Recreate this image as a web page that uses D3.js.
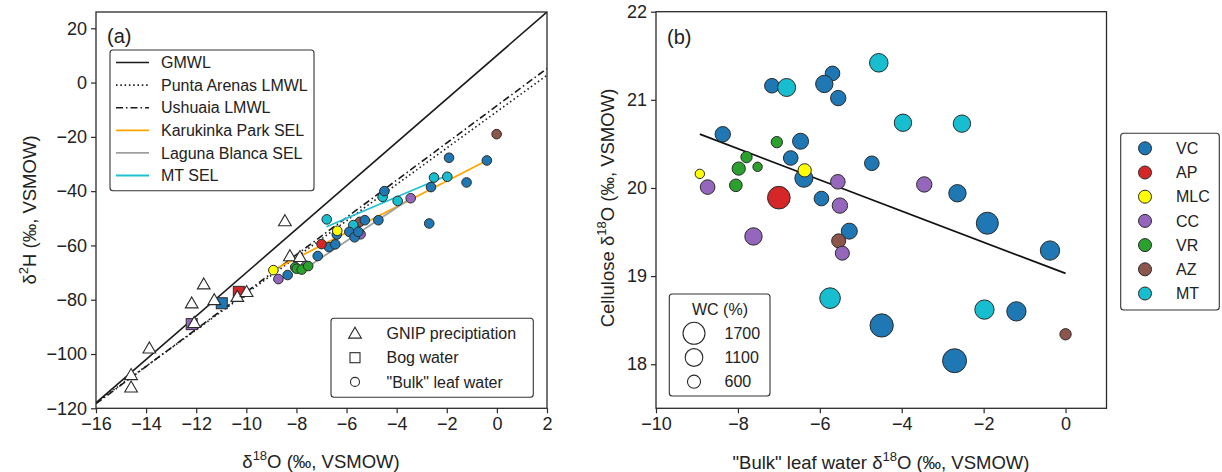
<!DOCTYPE html>
<html>
<head>
<meta charset="utf-8">
<script src="https://cdn.jsdelivr.net/npm/d3@7"></script>
<style>
body{margin:0;background:#fff;}
text{font-family:"Liberation Sans",Arial,sans-serif;fill:#222;}
</style>
</head>
<body>
<svg id="chart" width="1222" height="472"></svg>
<script>
// sites and colours
var sites = ["VC","AP","MLC","CC","VR","AZ","MT"];
var siteColors = ["#1f77b4","#d62728","#ffff00","#9467bd","#2ca02c","#8c564b","#17becf"];

// panel (a) : reference lines, end points
var lineNames = ["GMWL","Punta Arenas LMWL","Ushuaia LMWL","Karukinka Park SEL","Laguna Blanca SEL","MT SEL"];
var lineX1 = [-16,-16,-16,-8.7,-7.6,-6.8];
var lineY1 = [-118,-117.9,-118.3,-68.0,-68.2,-53.1];
var lineX2 = [2,2,2,-0.4,-3.44,-2.1];
var lineY2 = [26,2.7,5.2,-28.7,-42.6,-34.7];

// GNIP precipitation
var gnipX = [-14.6,-14.6,-13.87,-12.18,-12.08,-11.7,-11.28,-10.36,-9.99,-8.46,-8.26,-7.86];
var gnipY = [-112.3,-107.7,-97.9,-81.3,-88.5,-74.3,-80.1,-78.9,-77.1,-51.0,-63.9,-64.2];

// bog water
var bogSite = ["CC","VC","AP"];
var bogX = [-12.18,-10.98,-10.3];
var bogY = [-89.0,-81.3,-77.1];

// "bulk" leaf water, panel (a)
var leafSite = ["AZ","AZ",
  "CC","CC","CC","CC",
  "MT","MT","MT","MT","MT","MT",
  "VR","VR","VR","VR",
  "VC","VC","VC","VC","VC","VC","VC","VC","VC","VC","VC","VC","VC","VC","VC","VC",
  "AP","MLC","MLC"];
var leafX = [-5.47,-0.01,
  -8.72,-7.62,-5.44,-3.44,
  -6.79,-5.73,-4.56,-3.96,-2.51,-1.98,
  -8.05,-7.99,-7.79,-7.53,
  -8.35,-7.15,-6.70,-6.45,-6.39,-5.89,-5.68,-5.53,-5.27,-4.73,-4.49,-2.70,-2.63,-1.91,-1.21,-0.40,
  -7.0,-8.92,-6.37];
var leafY = [-51.3,-19.0,
  -72.4,-67.5,-55.9,-42.6,
  -50.4,-52.5,-42.1,-43.6,-35.0,-34.7,
  -68.0,-68.6,-68.9,-67.6,
  -70.9,-63.9,-60.6,-59.6,-56.0,-55.0,-57.0,-55.0,-50.7,-50.7,-40.0,-51.9,-38.5,-27.7,-36.8,-28.7,
  -59.5,-69.1,-54.6];

// panel (b) : cellulose vs leaf water, WC in %
var cellSite = ["VC","VC","MT","VC","VC","VC","MT","VC","VR","VR","VR","VR","VR","MLC","CC","VC","VC","MLC","AP","VC",
  "CC","CC","VC","VC","CC","AZ","CC","MT","VC","MT","MT","CC","VC","VC","VC","MT","VC","AZ","VC"];
var cellX = [-8.37,-7.17,-6.81,-5.69,-5.89,-5.55,-4.56,-6.47,-7.05,-7.79,-7.98,-7.52,-8.05,-8.93,-8.74,-6.71,-6.39,-6.37,-7.0,-5.96,
  -5.56,-5.51,-5.28,-4.73,-7.62,-5.54,-5.45,-5.75,-4.49,-3.97,-2.53,-3.45,-2.64,-1.91,-0.38,-1.98,-1.20,0.0,-2.71];
var cellY = [20.61,21.16,21.14,21.30,21.18,21.02,21.42,20.53,20.52,20.35,20.22,20.24,20.03,20.16,20.01,20.34,20.11,20.20,19.89,19.88,
  20.07,19.80,19.51,20.28,19.45,19.40,19.26,18.75,18.44,20.74,20.73,20.04,19.94,19.60,19.29,18.62,18.60,18.34,18.04];
var cellWC = [830,750,1140,750,1060,830,1210,900,450,450,620,310,560,310,750,750,1140,620,1800,750,
  750,830,900,750,1060,690,690,1500,1900,1060,1060,830,1060,1700,1310,1310,1310,450,2020];
var regX = [-8.93,0];
var regY = [20.61,19.03];
var wcLegend = [1700,1100,600];

var svg = d3.select("#chart");
var colorOf = d3.scaleOrdinal().domain(sites).range(siteColors);
var edge = "#2a2a2a";
var tickFont = "18px", labelFont = "18.5px", legendFont = "16px";

function superLabel(g, x, y, rotate, parts){
	var t = g.append("text")
		.attr("transform","translate("+x+","+y+")"+(rotate?" rotate(-90)":""))
		.attr("text-anchor","middle")
		.style("font-size",labelFont);
	parts.forEach(function(p){
		if(p.sup){
			t.append("tspan").attr("dy",-8).style("font-size","13px").text(p.sup);
			t.append("tspan").attr("dy",8).text(p.after);
		}else{
			t.append("tspan").text(p.text);
		}
	});
}

function frameAxes(x, y, xTicks, yTicks){
	var r = x.range(), d = y.range();
	var xa = svg.append("g").attr("transform","translate(0,"+d[0]+")")
		.call(d3.axisBottom(x).tickValues(xTicks).tickFormat(d3.format("d")).tickSize(5).tickPadding(4).tickSizeOuter(0));
	var ya = svg.append("g").attr("transform","translate("+r[0]+",0)")
		.call(d3.axisLeft(y).tickValues(yTicks).tickFormat(d3.format("d")).tickSize(5).tickPadding(4).tickSizeOuter(0));
	[xa,ya].forEach(function(a){
		a.select(".domain").remove();
		a.selectAll("line").attr("stroke",edge).attr("stroke-width",1.2);
		a.selectAll("text").style("font-size",tickFont).attr("fill","#222");
	});
	svg.append("rect").attr("x",r[0]).attr("y",d[1]).attr("width",r[1]-r[0]).attr("height",d[0]-d[1])
		.attr("fill","none").attr("stroke",edge).attr("stroke-width",1.3);
}

// ---------------- panel (a)
var xa = d3.scaleLinear().domain([-16,2]).range([96,547]);
var ya = d3.scaleLinear().domain([-120,26]).range([408.3,12]);
var lineStyles = [
	{color:"#1a1a1a",dash:null,w:1.6},
	{color:"#1a1a1a",dash:"1.5,2.8",w:1.6},
	{color:"#1a1a1a",dash:"7,3,1.5,3",w:1.6},
	{color:"#ffa500",dash:null,w:1.8},
	{color:"#a0a0a0",dash:null,w:1.8},
	{color:"#1ec0d2",dash:null,w:1.8}
];

svg.append("clipPath").attr("id","clipA").append("rect")
	.attr("x",96).attr("y",12).attr("width",451).attr("height",396.3);
var pa = svg.append("g").attr("clip-path","url(#clipA)");

lineNames.forEach(function(n,i){
	pa.append("line")
		.attr("x1",xa(lineX1[i])).attr("y1",ya(lineY1[i]))
		.attr("x2",xa(lineX2[i])).attr("y2",ya(lineY2[i]))
		.attr("stroke",lineStyles[i].color).attr("stroke-width",lineStyles[i].w)
		.attr("stroke-dasharray",lineStyles[i].dash);
});

pa.selectAll("rect.bog").data(bogX).enter().append("rect").attr("class","bog")
	.attr("x",function(d){return xa(d)-5.5;})
	.attr("y",function(d,i){return ya(bogY[i])-5.5;})
	.attr("width",11).attr("height",11)
	.attr("fill",function(d,i){return colorOf(bogSite[i]);})
	.attr("stroke",edge).attr("stroke-width",1);

var tri = d3.symbol().type(d3.symbolTriangle).size(70);
pa.selectAll("path.gnip").data(gnipX).enter().append("path").attr("class","gnip")
	.attr("d",tri)
	.attr("transform",function(d,i){return "translate("+xa(d)+","+(ya(gnipY[i])+1)+")";})
	.attr("fill","#fff").attr("stroke",edge).attr("stroke-width",1.1);

pa.selectAll("circle.leaf").data(leafX).enter().append("circle").attr("class","leaf")
	.attr("cx",function(d){return xa(d);})
	.attr("cy",function(d,i){return ya(leafY[i]);})
	.attr("r",4.8)
	.attr("fill",function(d,i){return colorOf(leafSite[i]);})
	.attr("stroke",edge).attr("stroke-width",1);

frameAxes(xa, ya, d3.range(-16,3,2), d3.range(-120,21,20));

svg.append("text").attr("x",107).attr("y",43).style("font-size","20px").text("(a)");

// legend of lines
var lgA = svg.append("g");
lgA.append("rect").attr("x",110).attr("y",50).attr("width",204).attr("height",140.7)
	.attr("rx",3).attr("fill","#fff").attr("stroke","#333").attr("stroke-width",1.1);
lineNames.forEach(function(n,i){
	var yy = 62.5 + i*22.6;
	lgA.append("line").attr("x1",116).attr("x2",149).attr("y1",yy).attr("y2",yy)
		.attr("stroke",lineStyles[i].color).attr("stroke-width",lineStyles[i].w)
		.attr("stroke-dasharray",lineStyles[i].dash);
	lgA.append("text").attr("x",161).attr("y",yy).attr("dy","0.36em").style("font-size",legendFont).text(n);
});

// legend of symbols
var lgB = svg.append("g");
lgB.append("rect").attr("x",331).attr("y",318.3).attr("width",202.3).attr("height",79)
	.attr("rx",3).attr("fill","#fff").attr("stroke","#333").attr("stroke-width",1.1);
var symNames = ["GNIP preciptiation","Bog water","\"Bulk\" leaf water"];
symNames.forEach(function(n,i){
	var yy = 333.5 + i*24.2;
	if(i==0) lgB.append("path").attr("d",tri).attr("transform","translate(355,"+(yy+1)+")")
		.attr("fill","#fff").attr("stroke",edge).attr("stroke-width",1.1);
	if(i==1) lgB.append("rect").attr("x",350).attr("y",yy-5).attr("width",10).attr("height",10)
		.attr("fill","#fff").attr("stroke",edge).attr("stroke-width",1.1);
	if(i==2) lgB.append("circle").attr("cx",355).attr("cy",yy).attr("r",4.5)
		.attr("fill","#fff").attr("stroke",edge).attr("stroke-width",1.1);
	lgB.append("text").attr("x",386.5).attr("y",yy).attr("dy","0.36em").style("font-size",legendFont).text(n);
});

superLabel(svg, 321, 468, false, [{text:"δ"},{sup:"18",after:"O (‰, VSMOW)"}]);
superLabel(svg, 36, 210, true, [{text:"δ"},{sup:"2",after:"H (‰, VSMOW)"}]);

// ---------------- panel (b)
var xb = d3.scaleLinear().domain([-10,1]).range([656,1106.5]);
var yb = d3.scaleLinear().domain([17.5,22]).range([408.3,11.7]);
var rb = d3.scaleSqrt().domain([0,1700]).range([0,11]);

var pb = svg.append("g");
pb.append("line")
	.attr("x1",xb(regX[0])).attr("y1",yb(regY[0]))
	.attr("x2",xb(regX[1])).attr("y2",yb(regY[1]))
	.attr("stroke","#111").attr("stroke-width",1.8);

pb.selectAll("circle.cell").data(cellX).enter().append("circle").attr("class","cell")
	.attr("cx",function(d){return xb(d);})
	.attr("cy",function(d,i){return yb(cellY[i]);})
	.attr("r",function(d,i){return rb(cellWC[i]);})
	.attr("fill",function(d,i){return colorOf(cellSite[i]);})
	.attr("stroke",edge).attr("stroke-width",1);

frameAxes(xb, yb, d3.range(-10,1,2), d3.range(18,23,1));

svg.append("text").attr("x",667).attr("y",44).style("font-size","20px").text("(b)");

// WC legend
var lgC = svg.append("g");
lgC.append("rect").attr("x",669.3).attr("y",294).attr("width",100.7).attr("height",102)
	.attr("rx",3).attr("fill","#fff").attr("stroke","#333").attr("stroke-width",1.1);
lgC.append("text").attr("x",720).attr("y",309).attr("dy","0.36em").attr("text-anchor","middle")
	.style("font-size",legendFont).text("WC (%)");
wcLegend.forEach(function(v,i){
	var yy = 333.3 + i*24.2;
	lgC.append("circle").attr("cx",694).attr("cy",yy).attr("r",rb(v))
		.attr("fill","#fff").attr("stroke",edge).attr("stroke-width",1.1);
	lgC.append("text").attr("x",724.5).attr("y",yy).attr("dy","0.36em").style("font-size",legendFont).text(v);
});

// site legend
var lgD = svg.append("g");
lgD.append("rect").attr("x",1120.7).attr("y",133.3).attr("width",98.6).attr("height",176.7)
	.attr("rx",3).attr("fill","#fff").attr("stroke","#333").attr("stroke-width",1.1);
sites.forEach(function(s,i){
	var yy = 148.3 + i*24.2;
	lgD.append("circle").attr("cx",1145).attr("cy",yy).attr("r",6.5)
		.attr("fill",colorOf(s)).attr("stroke",edge).attr("stroke-width",1);
	lgD.append("text").attr("x",1176).attr("y",yy).attr("dy","0.36em").style("font-size",legendFont).text(s);
});

superLabel(svg, 881, 469, false, [{text:"\"Bulk\" leaf water δ"},{sup:"18",after:"O (‰, VSMOW)"}]);
superLabel(svg, 614, 208, true, [{text:"Cellulose δ"},{sup:"18",after:"O (‰, VSMOW)"}]);
</script>
</body>
</html>
